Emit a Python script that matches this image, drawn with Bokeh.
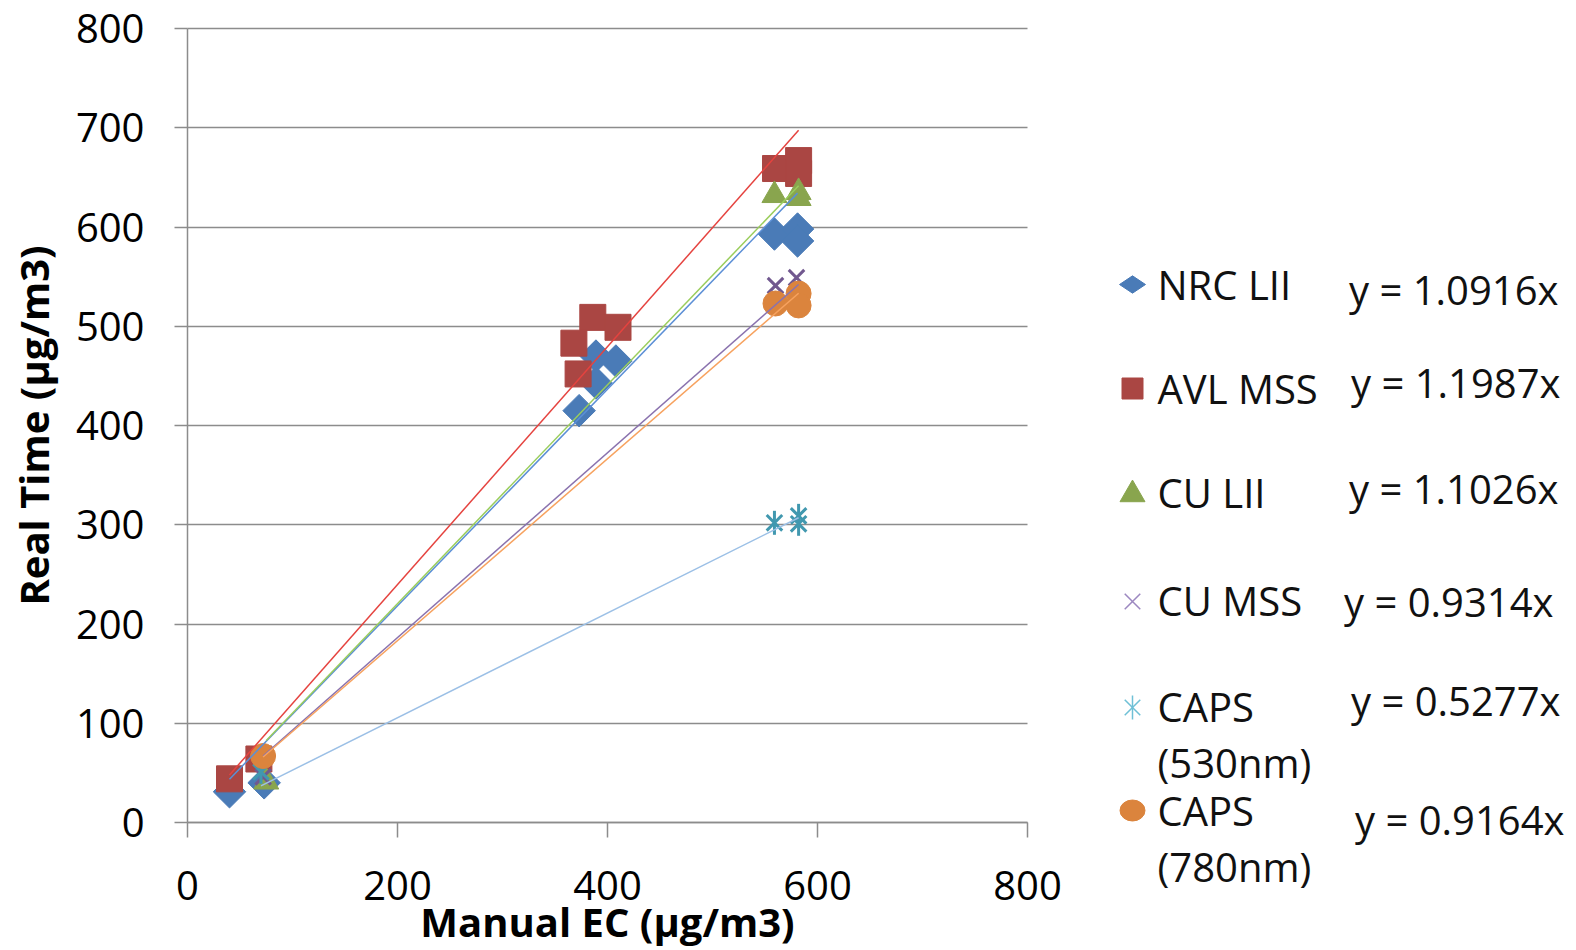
import math
from bokeh.plotting import figure
from bokeh.models import Range1d, FixedTicker
from bokeh.core.properties import value
from bokeh.embed import file_html
from bokeh.resources import INLINE

# ---------------- data ----------------
series_names = ["NRC LII", "AVL MSS", "CU LII", "CU MSS", "CAPS\n(530nm)", "CAPS\n(780nm)"]
slopes = [1.0916, 1.1987, 1.1026, 0.9314, 0.5277, 0.9164]
eq_labels = ["y = 1.0916x", "y = 1.1987x", "y = 1.1026x", "y = 0.9314x", "y = 0.5277x", "y = 0.9164x"]

nrc_x = [40, 73, 373, 389, 389, 408, 559, 581, 581]
nrc_y = [31, 40, 415, 443, 470, 465, 593, 598, 586]

avl_x = [40, 68, 368, 372, 386, 410, 560, 582, 582]
avl_y = [44, 64, 483, 452, 509, 499, 659, 667, 654]

culii_x = [75, 559, 582, 582]
culii_y = [41, 632, 635, 629]

cumss_x = [72, 560, 580, 582]
cumss_y = [46, 541, 549, 532]

caps530_x = [70, 559, 582, 582]
caps530_y = [51, 302, 309, 301]

caps780_x = [72, 560, 582, 582]
caps780_y = [67, 523, 533, 521]

x_ticks = [0, 200, 400, 600, 800]
y_ticks = [0, 100, 200, 300, 400, 500, 600, 700, 800]
axis_min, axis_max = 0, 800

x_title = "Manual EC (µg/m3)"
y_title = "Real Time (µg/m3)"

# ---------------- styles / layout ----------------
FONT = "Open Sans"
GRAY = "#8c8c8c"
TXT = "#111111"
marker_colors = ["#4A7BB7", "#AA4643", "#89A54E", "#71588F", "#4198AF", "#DB843D"]
line_colors = ["#5B8FD6", "#E5433F", "#9ACD5C", "#8A72AE", "#9CC0E6", "#F7A25F"]

W, H = 1568, 950
X0_PX, X_SCALE = 187.0, 1.05        # pixel of x=0, pixels per unit
Y0_PX, Y_SCALE = 822.0, 0.99238     # pixel of y=0, pixels per unit


def dx(px):
    return (px - X0_PX) / X_SCALE


def dy(py):
    return (Y0_PX - py) / Y_SCALE


p = figure(width=W, height=H,
           x_range=Range1d(dx(0), dx(W)), y_range=Range1d(dy(H), dy(0)),
           min_border=0, output_backend="svg", toolbar_location=None)
p.outline_line_color = None

p.xaxis.ticker = FixedTicker(ticks=x_ticks)
p.yaxis.ticker = FixedTicker(ticks=y_ticks)
p.xaxis.fixed_location = 0
p.yaxis.fixed_location = 0
p.xaxis.bounds = (axis_min, axis_max)
p.yaxis.bounds = (axis_min, axis_max)

p.xgrid.visible = False
p.ygrid.ticker = FixedTicker(ticks=y_ticks)
p.ygrid.grid_line_color = GRAY
p.ygrid.grid_line_width = 1.5
try:
    p.ygrid.cross_bounds = (axis_min, axis_max)
except Exception:
    p.ygrid.visible = False
    p.segment(x0=[axis_min] * len(y_ticks), y0=y_ticks, x1=[axis_max] * len(y_ticks), y1=y_ticks,
              line_color=GRAY, line_width=1.5)

for ax in (p.xaxis[0], p.yaxis[0]):
    ax.axis_line_color = GRAY
    ax.axis_line_width = 1.5
    ax.major_tick_line_color = GRAY
    ax.major_tick_line_width = 1.5
    ax.major_tick_in = 0
    ax.minor_tick_line_color = None
    ax.major_label_text_font = FONT
    ax.major_label_text_font_size = "40px"
    ax.major_label_text_color = "black"
    ax.axis_label_text_font = FONT
    ax.axis_label_text_font_size = "40px"
    ax.axis_label_text_font_style = "bold"
    ax.axis_label_text_color = "black"

p.xaxis.major_tick_out = 15
p.yaxis.major_tick_out = 13
p.xaxis.major_label_standoff = 33
p.yaxis.major_label_standoff = 30
p.xaxis.axis_label = x_title
p.yaxis.axis_label = y_title
p.xaxis.axis_label_standoff = -9
p.yaxis.axis_label_standoff = 12

# markers
p.scatter(nrc_x, nrc_y, marker="square", size=23, angle=math.pi / 4,
          fill_color=marker_colors[0], line_color=marker_colors[0])
p.scatter(avl_x, avl_y, marker="square", size=26,
          fill_color=marker_colors[1], line_color=marker_colors[1])
p.scatter(culii_x, culii_y, marker="triangle", size=25,
          fill_color=marker_colors[2], line_color=marker_colors[2])
p.scatter(cumss_x, cumss_y, marker="x", size=22, line_width=3, line_color=marker_colors[3])
p.scatter(caps530_x, caps530_y, marker="x", size=22, line_width=3, line_color=marker_colors[4])
p.scatter(caps530_x, caps530_y, marker="dash", size=24, angle=math.pi / 2, line_width=3,
          line_color=marker_colors[4])
p.scatter(caps780_x, caps780_y, marker="circle", size=25,
          fill_color=marker_colors[5], line_color=marker_colors[5])

# trendlines (y = slope * x, over each series' x range)
all_x = [nrc_x, avl_x, culii_x, cumss_x, caps530_x, caps780_x]
for xs, s, c in zip(all_x, slopes, line_colors):
    x0, x1 = min(xs), max(xs)
    p.line([x0, x1], [s * x0, s * x1], line_color=c, line_width=1.5)

# ---------------- legend (placed in pixel positions) ----------------
mk_px = 1132
mk_py = [284, 388, 494, 601, 707, 810]
p.scatter([dx(mk_px)], [dy(mk_py[0])], marker="diamond", size=26, angle=math.pi / 2,
          fill_color=marker_colors[0], line_color=marker_colors[0])
p.scatter([dx(mk_px)], [dy(mk_py[1])], marker="square", size=21,
          fill_color=marker_colors[1], line_color=marker_colors[1])
p.scatter([dx(mk_px)], [dy(mk_py[2])], marker="triangle", size=25,
          fill_color=marker_colors[2], line_color=marker_colors[2])
p.scatter([dx(mk_px)], [dy(mk_py[3])], marker="x", size=22, line_width=1.5, line_color="#9C88C0")
p.scatter([dx(mk_px)], [dy(mk_py[4])], marker="x", size=22, line_width=1.5, line_color="#6FC0D6")
p.scatter([dx(mk_px)], [dy(mk_py[4])], marker="dash", size=24, angle=math.pi / 2, line_width=1.5,
          line_color="#6FC0D6")
p.ellipse([dx(mk_px)], [dy(mk_py[5])], width=25, height=21, width_units="screen",
          height_units="screen", fill_color=marker_colors[5], line_color=marker_colors[5])

name_py = [284, 388, 492, 600, 706, 810]
nx, ny, nt = [], [], []
for n, yc in zip(series_names, name_py):
    for i, part in enumerate(n.split("\n")):
        nx.append(dx(1157))
        ny.append(dy(yc + i * 56))
        nt.append(part)
p.text(nx, ny, text=nt, text_align="left", text_baseline="middle",
       text_font=value(FONT), text_font_size=value("40px"), text_color=TXT)

eq_px = [1558, 1560, 1558, 1553, 1560, 1564]
eq_py = [289, 382, 488, 601, 700, 819]
p.text([dx(v) for v in eq_px], [dy(v) for v in eq_py], text=eq_labels,
       text_align="right", text_baseline="middle",
       text_font=value(FONT), text_font_size=value("40px"), text_color=TXT)

open("out.html", "w").write(file_html(p, INLINE))
